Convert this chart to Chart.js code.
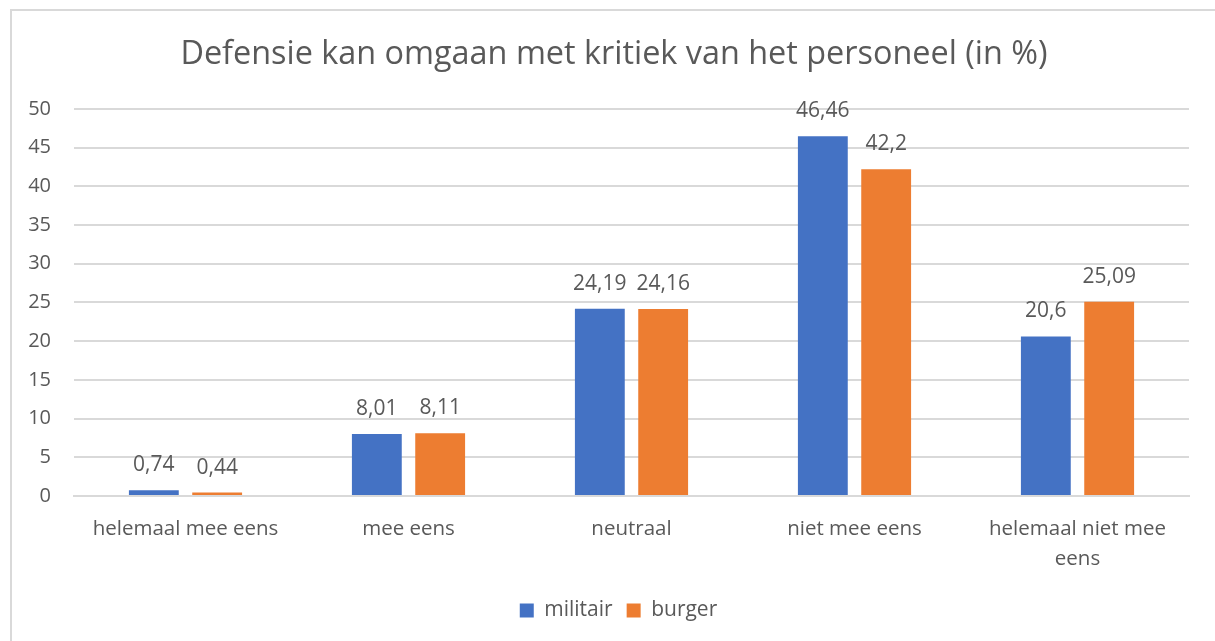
<!DOCTYPE html>
<html>
<head>
<meta charset="utf-8">
<script src="https://cdn.jsdelivr.net/npm/chart.js@4/dist/chart.umd.min.js"></script>
<style>
  html, body { margin: 0; padding: 0; background: #fff; overflow: hidden; }
  #frame {
    position: absolute; left: 10px; top: 9px;
    width: 1300px; height: 800px;
    border: 2px solid #d9d9d9; box-sizing: border-box;
  }
  #wrap { position: absolute; left: 0; top: 0; width: 1215px; height: 641px; }
</style>
</head>
<body>
<div id="frame"></div>
<div id="wrap"><canvas id="chart" width="1215" height="641"></canvas></div>
<script>
const categories = ["helemaal mee eens", "mee eens", "neutraal", "niet mee eens", ["helemaal niet mee", "eens"]];
const militair = [0.74, 8.01, 24.19, 46.46, 20.6];
const burger = [0.44, 8.11, 24.16, 42.2, 25.09];
const yTicks = [0, 5, 10, 15, 20, 25, 30, 35, 40, 45, 50];

const FONT = "'Open Sans', 'Noto Sans', sans-serif";
const TEXT = "#595959";

const fmtNl = (v) => String(v).replace(".", ",");

const barLabels = {
  id: "barLabels",
  afterDatasetsDraw(chart) {
    const { ctx } = chart;
    ctx.save();
    ctx.font = `21px ${FONT}`;
    ctx.fillStyle = TEXT;
    ctx.textAlign = "center";
    ctx.textBaseline = "middle";
    chart.data.datasets.forEach((ds, i) => {
      const meta = chart.getDatasetMeta(i);
      meta.data.forEach((bar, j) => {
        ctx.fillText(fmtNl(ds.data[j]), bar.x, bar.y - 25);
      });
    });
    ctx.restore();
  }
};

// title and legend sit centred on the whole frame, which starts at x=10 and runs off the right edge
const frameShift = {
  id: "frameShift",
  afterLayout(chart) {
    if (chart.titleBlock) chart.titleBlock.left += 39;
    if (chart.legend) chart.legend.left += 48;
  }
};

new Chart(document.getElementById("chart"), {
  type: "bar",
  data: {
    labels: categories,
    datasets: [
      { label: "militair", data: militair, backgroundColor: "#4472c4" },
      { label: "burger", data: burger, backgroundColor: "#ed7d31" }
    ]
  },
  plugins: [barLabels, frameShift],
  options: {
    responsive: false,
    animation: false,
    categoryPercentage: 0.568,
    barPercentage: 0.787,
    layout: { padding: { left: 0, right: 26, top: 0, bottom: 10 } },
    plugins: {
      title: {
        display: true,
        text: "Defensie kan omgaan met kritiek van het personeel (in %)",
        color: TEXT,
        font: { family: FONT, size: 32.4, weight: "normal" },
        padding: { top: 35, bottom: 35 }
      },
      legend: {
        position: "bottom",
        labels: {
          color: TEXT,
          font: { family: FONT, size: 21 },
          boxWidth: 14,
          boxHeight: 14,
          padding: 14
        }
      },
      tooltip: { enabled: false }
    },
    scales: {
      x: {
        grid: { display: false, drawTicks: false },
        border: { color: "#d9d9d9", width: 2 },
        ticks: { color: TEXT, font: { family: FONT, size: 20.5, lineHeight: 1.42 }, padding: 19, maxRotation: 0, autoSkip: false },
        afterFit: (s) => { s.height = 90; }
      },
      y: {
        min: 0,
        max: 50,
        afterBuildTicks: (s) => { s.ticks = yTicks.map((v) => ({ value: v })); },
        grid: { color: "#d9d9d9", lineWidth: 2, drawTicks: false },
        border: { display: false },
        ticks: { color: TEXT, font: { family: FONT, size: 20 }, padding: 23 },
        afterFit: (s) => { s.width = 74; }
      }
    }
  }
});
</script>
</body>
</html>
